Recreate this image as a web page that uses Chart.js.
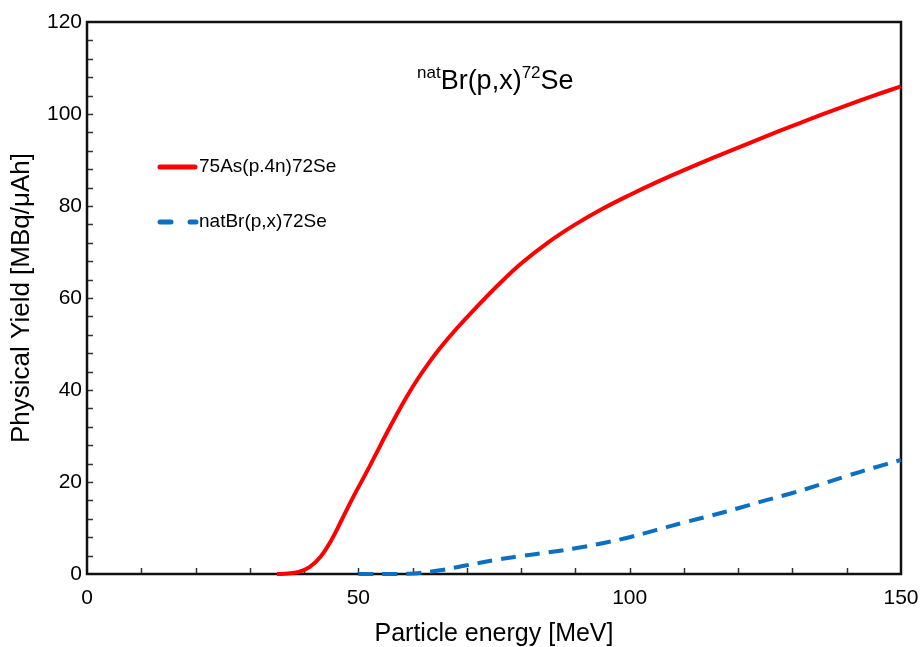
<!DOCTYPE html>
<html>
<head>
<meta charset="utf-8">
<script src="https://cdn.jsdelivr.net/npm/chart.js@4.4.0/dist/chart.umd.min.js"></script>
<style>
  html, body { margin: 0; padding: 0; background: #fff; }
  #wrap { width: 921px; height: 647px; }
</style>
</head>
<body>
<div id="wrap"><canvas id="c" width="921" height="647"></canvas></div>
<script>
// ---- data ----
const asEnergy = [35, 37, 39, 41, 43, 45, 47, 49, 51, 53, 55, 57, 59, 61, 63, 65, 68, 72, 76, 80, 85, 90, 95, 100, 105, 110, 115, 120, 125, 130, 135, 140, 145, 150];
const asYield  = [0, 0.1, 0.45, 1.5, 3.7, 7.3, 11.9, 16.6, 21.0, 25.5, 30.1, 34.5, 38.7, 42.5, 45.9, 49.0, 53.2, 58.3, 63.1, 67.5, 72.1, 76.0, 79.4, 82.4, 85.2, 87.8, 90.3, 92.7, 95.1, 97.4, 99.7, 101.9, 104.0, 106.0];
const brEnergy = [50, 55, 60, 65, 70, 75, 80, 85, 90, 95, 100, 105, 110, 115, 120, 125, 130, 135, 140, 145, 150];
const brYield  = [0, 0, 0.1, 0.8, 1.9, 3.0, 3.9, 4.7, 5.6, 6.7, 8.0, 9.6, 11.2, 12.7, 14.3, 16.0, 17.6, 19.4, 21.3, 23.1, 24.8];
const seriesNames = ['75As(p.4n)72Se', 'natBr(p,x)72Se'];
const xTitle = 'Particle energy [MeV]';
const yTitle = 'Physical Yield [MBq/\u03bcAh]';
const xLabelTicks = [0, 50, 100, 150];
const yLabelTicks = [0, 20, 40, 60, 80, 100, 120];

const RED = '#FF0000';
const BLUE = '#0A70C4';
const FONT = '"Liberation Sans", Arial, sans-serif';

const toPts = (xs, ys) => xs.map((x, i) => ({ x: x, y: ys[i] }));

const framePlugin = {
  id: 'frame',
  beforeDatasetsDraw(chart) {
    const { ctx, chartArea: a, scales } = chart;
    ctx.save();
    ctx.strokeStyle = '#333';
    ctx.lineWidth = 1.5;
    ctx.beginPath();
    for (let v = 10; v < 150; v += 10) {
      const px = Math.round(scales.x.getPixelForValue(v)) + 0.5;
      ctx.moveTo(px, a.bottom);
      ctx.lineTo(px, a.bottom - 6);
    }
    for (let v = 4; v < 120; v += 4) {
      const py = Math.round(scales.y.getPixelForValue(v)) + 0.5;
      ctx.moveTo(a.left, py);
      ctx.lineTo(a.left + 6, py);
    }
    ctx.stroke();
    ctx.strokeStyle = '#111';
    ctx.lineWidth = 2.5;
    ctx.strokeRect(a.left, a.top, a.right - a.left, a.bottom - a.top);
    ctx.restore();
  },
  afterDraw(chart) {
    const { ctx } = chart;
    ctx.save();
    ctx.fillStyle = '#000';
    let x = 417;
    const base = 89;
    const parts = [['nat', true], ['Br(p,x)', false], ['72', true], ['Se', false]];
    ctx.textBaseline = 'alphabetic';
    ctx.textAlign = 'left';
    for (const [t, sup] of parts) {
      ctx.font = (sup ? '17px ' : '27px ') + FONT;
      ctx.fillText(t, x, sup ? base - 11 : base);
      x += ctx.measureText(t).width;
    }
    const ds = chart.data.datasets;
    ctx.lineCap = 'round';
    ctx.strokeStyle = ds[0].borderColor;
    ctx.lineWidth = 5;
    ctx.setLineDash([]);
    ctx.beginPath(); ctx.moveTo(160, 167); ctx.lineTo(195, 167); ctx.stroke();
    ctx.strokeStyle = ds[1].borderColor;
    ctx.beginPath(); ctx.moveTo(160, 222); ctx.lineTo(171, 222); ctx.stroke();
    ctx.beginPath(); ctx.moveTo(190, 222); ctx.lineTo(196, 222); ctx.stroke();
    ctx.font = '19px ' + FONT;
    ctx.textBaseline = 'middle';
    ctx.fillText(ds[0].label, 199, 167);
    ctx.fillText(ds[1].label, 199, 222);
    ctx.restore();
  }
};

new Chart(document.getElementById('c'), {
  type: 'scatter',
  data: {
    datasets: [
      {
        label: seriesNames[0],
        data: toPts(asEnergy, asYield),
        showLine: true,
        borderColor: RED,
        backgroundColor: RED,
        borderWidth: 4,
        pointRadius: 0,
        tension: 0.4,
        clip: false
      },
      {
        label: seriesNames[1],
        data: toPts(brEnergy, brYield),
        showLine: true,
        borderColor: BLUE,
        backgroundColor: BLUE,
        borderWidth: 4,
        borderDash: [15, 9],
        pointRadius: 0,
        tension: 0.4,
        clip: false
      }
    ]
  },
  options: {
    responsive: false,
    animation: false,
    devicePixelRatio: 1,
    layout: { padding: { left: 0, top: 22, right: 20, bottom: 0 } },
    plugins: { legend: { display: false }, tooltip: { enabled: false }, title: { display: false } },
    scales: {
      x: {
        type: 'linear', min: 0, max: 150,
        afterFit(s) { s.height = 73; s.paddingLeft = 0; s.paddingRight = 0; },
        grid: { display: true, drawOnChartArea: false, drawTicks: false },
        border: { display: false },
        ticks: {
          stepSize: 10, autoSkip: false, maxRotation: 0, padding: 12,
          color: '#000', font: { family: FONT, size: 21 },
          callback: v => xLabelTicks.includes(v) ? String(v) : ''
        },
        title: { display: true, text: xTitle, color: '#000', font: { family: FONT, size: 25, lineHeight: 1 }, padding: { top: 0, bottom: 0 } }
      },
      y: {
        type: 'linear', min: 0, max: 120,
        afterFit(s) { s.width = 87; },
        grid: { display: true, drawOnChartArea: false, drawTicks: false },
        border: { display: false },
        ticks: {
          stepSize: 4, autoSkip: false, padding: 5,
          color: '#000', font: { family: FONT, size: 21 },
          callback: v => yLabelTicks.includes(v) ? String(v) : ''
        },
        title: { display: true, text: yTitle, color: '#000', font: { family: FONT, size: 26, lineHeight: 1 }, padding: { top: 9, bottom: 0 } }
      }
    }
  },
  plugins: [framePlugin]
});
</script>
</body>
</html>
